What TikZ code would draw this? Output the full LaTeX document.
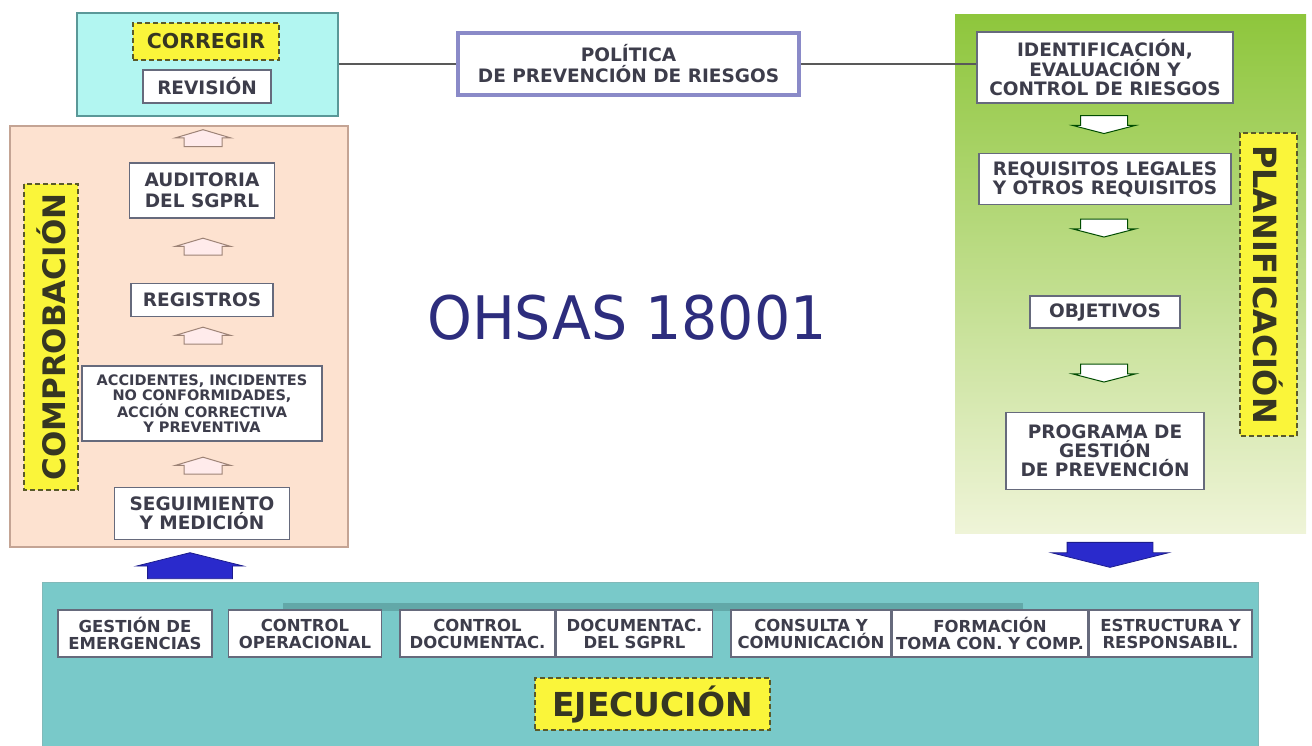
\documentclass[tikz,border=0pt]{standalone}
\usepackage{fontspec}
\setmainfont{DejaVu Sans}
\newfontfamily\titlefont[FakeStretch=0.95]{DejaVu Sans}
\usetikzlibrary{positioning,shapes.arrows}

\definecolor{cyanfill}{HTML}{B2F6F1}
\definecolor{cyanline}{HTML}{5A9898}
\definecolor{peachfill}{HTML}{FDE2D0}
\definecolor{peachline}{HTML}{C4A494}
\definecolor{grntop}{HTML}{8EC63C}
\definecolor{grnmid}{HTML}{BEDC84}
\definecolor{grnbot}{HTML}{EFF4D8}
\definecolor{tealfill}{HTML}{79C9C9}
\definecolor{tealband}{HTML}{62A8A8}
\definecolor{boxline}{HTML}{666A7C}
\definecolor{labelgray}{HTML}{3D3D4B}
\definecolor{polline}{HTML}{8A8AC8}
\definecolor{tagyellow}{HTML}{FAF53A}
\definecolor{tagline}{HTML}{5A5A2A}
\definecolor{tagtext}{HTML}{363622}
\definecolor{flowblue}{HTML}{2A2ACC}
\definecolor{flowline}{HTML}{1C1C8C}
\definecolor{navytitle}{HTML}{2D2D7D}

\tikzstyle{stage}=[rectangle,draw=boxline,fill=white,line width=1.5pt,inner sep=0pt,
align=center,text=labelgray,font=\fontsize{18.5}{19}\selectfont\bfseries]
\tikzstyle{smallstage}=[stage,font=\fontsize{14.5}{15}\selectfont\bfseries]
\tikzstyle{lowstage}=[stage,minimum height=47pt,font=\fontsize{16.5}{17}\selectfont\bfseries]
\tikzstyle{tag}=[rectangle,draw=tagline,fill=tagyellow,line width=1.4pt,
dash pattern=on 5pt off 3pt,inner sep=0pt,text=tagtext]
\tikzstyle{hollowup}=[single arrow,shape border rotate=90,draw=peachline!80!black,
fill=white!92!red,line width=1pt,inner ysep=0pt,inner xsep=18.5pt,minimum width=55pt,
minimum height=17pt,single arrow head extend=9pt,single arrow tip angle=147]
\tikzstyle{hollowdown}=[single arrow,shape border rotate=270,draw=black!70!green,
fill=white,line width=1pt,inner ysep=0pt,inner xsep=23pt,minimum width=62pt,
minimum height=18pt,single arrow head extend=8pt,single arrow tip angle=151]
\tikzstyle{flowarrow}=[single arrow,draw=flowline,fill=flowblue,line width=0.8pt,
inner ysep=0pt,single arrow tip angle=152]
\tikzstyle{link}=[draw=black!65,line width=1.3pt]

\begin{document}
\begin{tikzpicture}[x=1pt,y=-1pt]
            \useasboundingbox (0,0) rectangle (1312,746);

            % PANELS

            \node[rectangle,draw=cyanline,fill=cyanfill,line width=2.5pt,
                  minimum width=261pt,minimum height=103pt] (revpanel) at (207.5,64.5) {};
            \node[rectangle,draw=peachline,fill=peachfill,line width=2pt,
                  minimum width=338pt,minimum height=421pt] (comppanel) at (179,336.5) {};
            \node[rectangle,top color=grntop,middle color=grnmid,bottom color=grnbot,
                  minimum width=351pt,minimum height=518pt] (planpanel) at (1130.5,274) {};
            \node[rectangle,draw=tealband!80,fill=tealfill,line width=1pt,
                  minimum width=1216pt,minimum height=172pt] (ejecpanel) at (650,668) {};
            \fill[tealband] (283,603) rectangle (1023,611);

            % REVISION PART

            \node[tag,minimum width=146pt,minimum height=37pt,
                  font=\fontsize{20.5}{21}\selectfont\bfseries] (corregir) at (206,41.5) {CORREGIR};
            \node[stage,minimum width=128pt,minimum height=33pt] (revision) at (207,86.5) {REVISIÓN};

            % POLITICA PART

            \node[stage,draw=polline,line width=4.5pt,minimum width=341pt,minimum height=62pt,
                  font=\fontsize{18.5}{21}\selectfont\bfseries] (politica) at (628.5,64) {POLÍTICA\\DE PREVENCIÓN DE RIESGOS};
            \node[text=navytitle,font=\titlefont\fontsize{60}{60}\selectfont] (ohsas) at (627,318) {OHSAS 18001};

            % COMPROBACION PART

            \node[stage,minimum width=145pt,minimum height=55pt,
                  font=\fontsize{18.5}{21}\selectfont\bfseries] (auditoria) at (202,190.5) {AUDITORIA\\DEL SGPRL};
            \node[stage,minimum width=142pt,minimum height=33pt,below=64pt of auditoria] (registros) {REGISTROS};
            \node[smallstage,minimum width=240pt,minimum height=75pt,below=48pt of registros] (accidentes)
                  {ACCIDENTES, INCIDENTES\\NO CONFORMIDADES,\\ACCIÓN CORRECTIVA\\Y PREVENTIVA};
            \node[stage,minimum width=175pt,minimum height=52pt,below=45pt of accidentes] (seguimiento) {SEGUIMIENTO\\Y MEDICIÓN};

            \node[hollowup] (up1) at (203,141) {};
            \node[hollowup] (up2) at (203,249.5) {};
            \node[hollowup] (up3) at (203,338.5) {};
            \node[hollowup] (up4) at (203,468.5) {};

            \node[tag,rotate=90,minimum width=306pt,minimum height=54pt,
                  font=\fontsize{31}{31}\selectfont\bfseries] (comprob) at (51,337) {COMPROBACIÓN};

            % PLANIFICACION PART

            \node[stage,minimum width=256pt,minimum height=71pt] (identif) at (1105,67.5)
                  {IDENTIFICACIÓN,\\EVALUACIÓN Y\\CONTROL DE RIESGOS};
            \node[stage,minimum width=252pt,minimum height=51pt,below=49pt of identif] (requisitos)
                  {REQUISITOS LEGALES\\Y OTROS REQUISITOS};
            \node[stage,minimum width=150pt,minimum height=32pt,below=90pt of requisitos] (objetivos) {OBJETIVOS};
            \node[stage,minimum width=198pt,minimum height=77pt,below=83pt of objetivos] (programa)
                  {PROGRAMA DE\\GESTIÓN\\DE PREVENCIÓN};

            \node[hollowdown] (down1) at (1104,121.5) {};
            \node[hollowdown] (down2) at (1104,225) {};
            \node[hollowdown] (down3) at (1104,370) {};

            \node[tag,rotate=-90,minimum width=303pt,minimum height=57pt,
                  font=\fontsize{32}{32}\selectfont\bfseries] (planif) at (1268.5,284.5) {PLANIFICACIÓN};

            % EJECUCION PART

            \node[lowstage,minimum width=154pt] (emerg) at (135,633.5) {GESTIÓN DE\\EMERGENCIAS};
            \node[lowstage,minimum width=153pt,right=15pt of emerg] (operac) {CONTROL\\OPERACIONAL};
            \node[lowstage,minimum width=155pt,right=17pt of operac] (ctrldoc) {CONTROL\\DOCUMENTAC.};
            \node[lowstage,minimum width=156pt,right=0pt of ctrldoc] (docsg) {DOCUMENTAC.\\DEL SGPRL};
            \node[lowstage,minimum width=160pt,right=17pt of docsg] (consulta) {CONSULTA Y\\COMUNICACIÓN};
            \node[lowstage,minimum width=195pt,right=0pt of consulta] (formacion) {FORMACIÓN\\TOMA CON. Y COMP.};
            \node[lowstage,minimum width=163pt,right=0pt of formacion] (estructura) {ESTRUCTURA Y\\RESPONSABIL.};

            \node[tag,minimum width=235pt,minimum height=52pt,
                  font=\fontsize{33}{33}\selectfont\bfseries] (ejecucion) at (652.5,704) {EJECUCIÓN};

            % Flow between stages

            \node[flowarrow,shape border rotate=90,minimum width=106pt,minimum height=26pt,
                  inner xsep=42pt,single arrow head extend=11pt] (upflow) at (190,571) {};
            \node[flowarrow,shape border rotate=270,minimum width=116pt,minimum height=25pt,
                  inner xsep=42.5pt,single arrow head extend=15.5pt] (downflow) at (1110,549.5) {};

            \path[link] (revpanel.east |- politica.west) edge (politica.west);
            \path[link] (politica.east) edge (politica.east -| identif.west);

\end{tikzpicture}
\end{document}
